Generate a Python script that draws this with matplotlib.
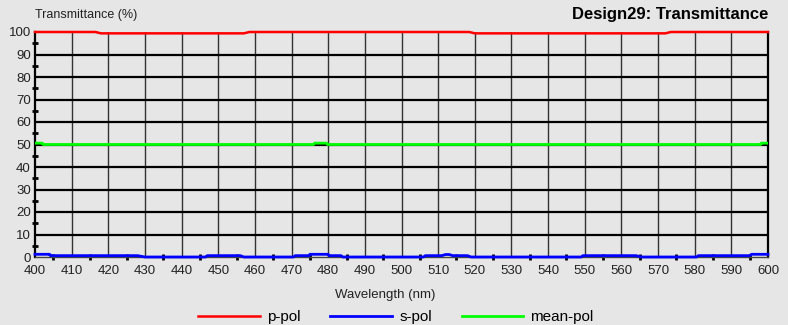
from matplotlib import pyplot as plt
from matplotlib.ticker import MultipleLocator

# p-pol transmittance (%)
p_wl = [400, 416.5, 418, 457, 458.5, 518.5, 520, 572, 573.5, 600]
p_val = [100, 100, 99.4, 99.4, 100, 100, 99.4, 99.4, 100, 100]

# s-pol transmittance (%)
s_wl = [400, 404, 404.2, 428, 430, 446.5, 447, 456, 457, 470.5, 471,
        474.8, 475, 480, 480.2, 483.5, 484, 506, 506.5, 511, 512, 513, 514,
        518, 519, 549, 549.5, 564, 565.5, 580.5, 581, 595, 595.5, 600]
s_val = [1.2, 1.2, 0.6, 0.6, 0, 0, 0.6, 0.6, 0, 0, 0.6,
         0.6, 1.2, 1.2, 0.6, 0.6, 0, 0, 0.6, 0.6, 1.1, 1.1, 0.6,
         0.6, 0, 0, 0.6, 0.6, 0, 0, 0.6, 0.6, 1.2, 1.2]

# mean-pol transmittance (%)
m_wl = [400, 402, 402.2, 476, 476.3, 479.5, 479.8, 598, 598.2, 600]
m_val = [50.6, 50.6, 50, 50, 50.6, 50.6, 50, 50, 50.6, 50.6]

x_ticks = list(range(400, 601, 10))
y_ticks = list(range(0, 101, 10))

bg = "#e6e6e6"
font = ["Liberation Sans", "DejaVu Sans"]
plt.rcParams["font.family"] = font

fig = plt.figure(figsize=(7.88, 3.25), dpi=100)
fig.patch.set_facecolor(bg)
ax = fig.add_axes([35 / 788, 1 - 257 / 325, 733 / 788, 225 / 325])
ax.set_facecolor(bg)

ax.set_xlim(400, 600)
ax.set_ylim(0, 100)
ax.set_xticks(x_ticks)
ax.set_yticks(y_ticks)
ax.set_xticks([w + 5 for w in x_ticks[:-1]], minor=True)
ax.yaxis.set_minor_locator(MultipleLocator(5))

for x in x_ticks[1:-1]:
    ax.axvline(x, color="#333333", linewidth=1.0, zorder=1)
for y in y_ticks[1:-1]:
    ax.axhline(y, color="black", linewidth=1.6, zorder=1)

ax.plot(m_wl, m_val, color="#00ff00", linewidth=2.0, label="mean-pol", zorder=3)
ax.plot(s_wl, s_val, color="#0000ff", linewidth=2.0, label="s-pol", zorder=4, clip_on=False)
ax.plot(p_wl, p_val, color="#ff0000", linewidth=1.8, label="p-pol", zorder=5, clip_on=False)

ax.spines["top"].set_visible(False)
ax.spines["left"].set_linewidth(1.6)
ax.spines["right"].set_linewidth(1.6)
ax.spines["bottom"].set_color("#444444")
ax.spines["bottom"].set_linewidth(1.0)

ax.tick_params(axis="both", which="major", length=0, labelsize=9.5, pad=6, colors="#222222")
ax.tick_params(axis="y", which="major", pad=3)
ax.tick_params(axis="x", which="minor", direction="inout", length=5, width=2, color="black")
ax.tick_params(axis="y", which="minor", direction="inout", length=5, width=2, color="black")

fig.text(35 / 788, 1 - 15 / 325, "Transmittance (%)", fontsize=9, va="center", ha="left", color="#222222")
fig.text(768 / 788, 1 - 14 / 325, "Design29: Transmittance", fontsize=12, fontweight="bold",
         va="center", ha="right", family=["Liberation Sans Narrow", "Liberation Sans", "DejaVu Sans"])
fig.text(385 / 788, 1 - 295 / 325, "Wavelength (nm)", fontsize=9.5, va="center", ha="center", color="#222222")

handles, labels = ax.get_legend_handles_labels()
order = [2, 1, 0]
fig.legend([handles[i] for i in order], [labels[i] for i in order],
           loc="center", bbox_to_anchor=(396 / 788, 1 - 317 / 325), ncol=3,
           frameon=False, fontsize=11, handlelength=4.05, handletextpad=0.45, columnspacing=1.95)

fig.savefig("out.png", dpi=100, facecolor=bg)
